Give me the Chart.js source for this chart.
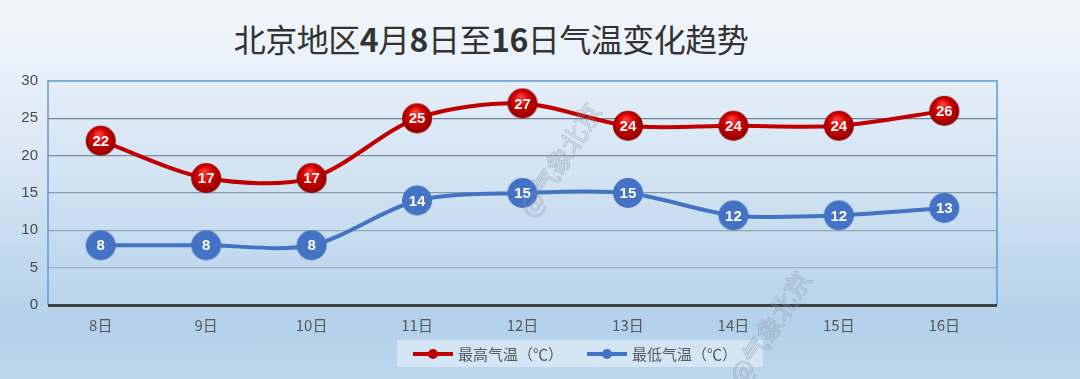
<!DOCTYPE html>
<html><head><meta charset="utf-8">
<script src="https://cdn.jsdelivr.net/npm/chart.js@4.4.1/dist/chart.umd.min.js"></script>
<style>
html,body{margin:0;padding:0;width:1080px;height:379px;overflow:hidden;}
body{background:linear-gradient(to bottom,#f3f7fc 0%,#dbe8f5 40%,#b3d1eb 85%,#bcd6ee 100%);position:relative;font-family:"Noto Sans CJK SC","Noto Sans",sans-serif;}
#title{position:absolute;left:0;width:982px;top:15px;text-align:center;font-size:32px;font-weight:400;color:#333333;font-family:"Noto Sans CJK SC",sans-serif;letter-spacing:-0.5px;}
#title b{font-weight:bold;}
#wrap{position:absolute;left:0;top:0;width:1080px;height:379px;}
</style></head>
<body>
<div id="title">北京地区<b>4</b>月<b>8</b>日至<b>16</b>日气温变化趋势</div>
<div id="wrap"><canvas id="c" width="1080" height="379"></canvas></div>
<script>
const categories = ["8日","9日","10日","11日","12日","13日","14日","15日","16日"];
const highTemps = [22,17,17,25,27,24,24,24,26];
const lowTemps = [8,8,8,14,15,15,12,12,13];
const seriesNames = ["最高气温（℃）","最低气温（℃）"];
const yTicks = [0,5,10,15,20,25,30];

function makeDot(type){
  const c=document.createElement('canvas');c.width=32;c.height=32;const g=c.getContext('2d');
  g.beginPath();g.arc(16,16,15,0,Math.PI*2);
  if(type==='red'){
    const gr=g.createRadialGradient(14,9,1,16,16,17);
    gr.addColorStop(0,'#ff3a3a');gr.addColorStop(0.45,'#d40000');gr.addColorStop(1,'#7e0000');
    g.fillStyle=gr;
  } else { g.fillStyle='#4472c4'; }
  g.fill();return c;
}
const redDot=makeDot('red'), blueDot=makeDot('blue');

const bgPlugin={id:'bg',beforeDraw(chart){const {ctx,chartArea:a}=chart;
  const gr=ctx.createLinearGradient(0,a.top,0,a.bottom);
  gr.addColorStop(0,'#e5eef8');gr.addColorStop(1,'#b8d4ec');
  ctx.save();ctx.fillStyle=gr;ctx.fillRect(a.left,a.top,a.right-a.left,a.bottom-a.top);ctx.restore();},
  afterDatasetsDraw(chart){const {ctx,chartArea:a}=chart;ctx.save();
    ctx.strokeStyle='#5b9bd5';ctx.lineWidth=1.5;
    ctx.beginPath();ctx.moveTo(a.left,a.bottom);ctx.lineTo(a.left,a.top);ctx.lineTo(a.right,a.top);ctx.lineTo(a.right,a.bottom);ctx.stroke();
    ctx.strokeStyle='#404040';ctx.lineWidth=3;ctx.beginPath();ctx.moveTo(a.left,a.bottom+0.5);ctx.lineTo(a.right,a.bottom+0.5);ctx.stroke();
    ctx.font='bold 15px "Liberation Sans","Open Sans",sans-serif';ctx.fillStyle='#ffffff';ctx.textAlign='center';ctx.textBaseline='middle';
    chart.data.datasets.forEach((ds,i)=>{chart.getDatasetMeta(i).data.forEach((p,j)=>{ctx.fillText(String(ds.data[j]),p.x,p.y+1);});});
    ctx.restore();},
  afterDraw(chart){const {ctx}=chart;ctx.save();
    ctx.fillStyle='rgba(235,242,250,0.55)';ctx.fillRect(397,340,366,27);
    const items=[{x:413,color:'#c00000',label:seriesNames[0]},{x:587,color:'#4472c4',label:seriesNames[1]}];
    ctx.font='15px "Noto Sans CJK SC",sans-serif';ctx.textBaseline='middle';ctx.textAlign='left';
    items.forEach(it=>{ctx.strokeStyle=it.color;ctx.lineWidth=4;ctx.beginPath();ctx.moveTo(it.x,354);ctx.lineTo(it.x+40,354);ctx.stroke();
      ctx.fillStyle=it.color;ctx.beginPath();ctx.arc(it.x+20,354,5,0,Math.PI*2);ctx.fill();
      ctx.fillStyle='#595959';ctx.fillText(it.label,it.x+45,354);});
    ctx.font='26px "Noto Sans CJK SC",sans-serif';ctx.strokeStyle='rgba(140,150,165,0.45)';ctx.lineWidth=1;
    [[560,160],[770,328]].forEach(([x,y])=>{ctx.save();ctx.translate(x,y);ctx.rotate(-Math.PI*0.32);ctx.textAlign='center';ctx.strokeText('@气象北京',0,0);ctx.restore();});
    ctx.restore();}
};

new Chart(document.getElementById('c'),{
  type:'line',
  data:{labels:categories,datasets:[
    {label:seriesNames[0],data:highTemps,borderColor:'#c00000',borderWidth:4,tension:0.3,pointStyle:redDot,pointRadius:15,pointHoverRadius:15},
    {label:seriesNames[1],data:lowTemps,borderColor:'#4472c4',borderWidth:4,tension:0.3,pointStyle:blueDot,pointRadius:15,pointHoverRadius:15}
  ]},
  options:{responsive:false,animation:false,events:[],
    layout:{padding:{top:81,right:83,left:0,bottom:0}},
    plugins:{legend:{display:false},tooltip:{enabled:false},title:{display:false}},
    scales:{
      x:{type:'category',offset:true,grid:{display:false,drawTicks:false},border:{display:false},
        ticks:{color:'#595959',font:{size:15,family:'"Noto Sans CJK SC",sans-serif'},padding:11},
        afterFit(s){s.height=74;}},
      y:{min:0,max:30,afterBuildTicks(s){s.ticks=yTicks.map(v=>({value:v}));},
        grid:{drawTicks:false,lineWidth:1.3,color(c){const v=c.tick.value;if(v===30||v===0)return 'rgba(0,0,0,0)';return `rgba(${175-v*3},${185-v*2.6},${196-v*2.2},0.9)`;}},
        border:{display:false},
        ticks:{color:'#4a4a4a',font:{size:15,family:'"Liberation Sans","Open Sans",sans-serif'},padding:10},
        afterFit(s){s.width=48;}}
    }
  },
  plugins:[bgPlugin]
});
</script>
</body></html>
